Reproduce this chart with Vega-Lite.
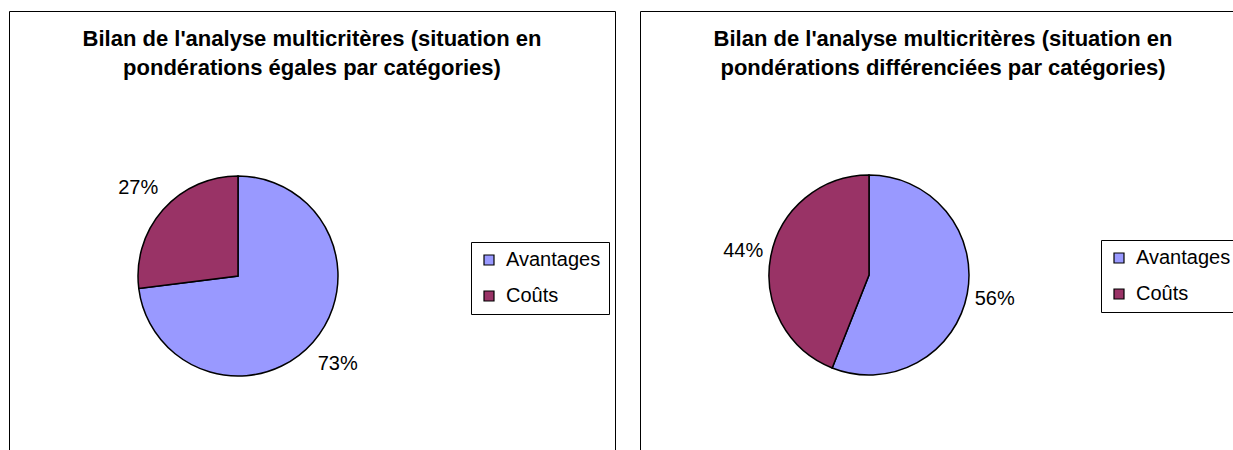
{
  "$schema": "https://vega.github.io/schema/vega-lite/v6.json",
  "background": "white",
  "padding": {"left": 8, "top": 10, "right": 0, "bottom": 0},
  "spacing": 23,
  "config": {
    "font": "Liberation Sans",
    "view": {"stroke": "#000000", "strokeWidth": 1},
    "title": {"font": "Liberation Sans", "fontSize": 22, "fontWeight": "bold", "color": "#000000", "anchor": "middle", "baseline": "top", "offset": -69, "lineHeight": 29},
    "legend": {"orient": "none", "strokeColor": "#000000", "fillColor": "white", "padding": 8, "symbolType": "square", "symbolSize": 100, "symbolStrokeColor": "#000000", "symbolStrokeWidth": 1.2, "labelFontSize": 20, "labelFont": "Liberation Sans", "labelColor": "#000000", "labelOffset": 7, "rowPadding": 16, "title": null}
  },
  "resolve": {"legend": {"color": "independent"}},
  "hconcat": [
    {
      "width": 606,
      "height": 460,
      "view": {"stroke": "#000000", "strokeWidth": 1},
      "title": {"text": ["Bilan de l'analyse multicritères (situation en", "pondérations égales par catégories)"]},
      "data": {"values": [
        {"category": "Avantages", "value": 0.73},
        {"category": "Coûts", "value": 0.27}
      ]},
      "layer": [
        {
          "mark": {"type": "arc", "stroke": "#000000", "strokeWidth": 1.5, "outerRadius": 100, "xOffset": -74, "yOffset": 35},
          "encoding": {
            "theta": {"field": "value", "type": "quantitative", "stack": true},
            "order": {"field": "category", "type": "ordinal", "sort": "ascending"},
            "color": {"field": "category", "type": "nominal", "scale": {"domain": ["Avantages", "Coûts"], "range": ["#9999FF", "#993366"]}, "legend": {"legendX": 462, "legendY": 231}}
          }
        },
        {
          "mark": {"type": "text", "radius": 133, "fontSize": 20, "font": "Liberation Sans", "fill": "#000000", "xOffset": -74, "yOffset": 35, "align": "center", "baseline": "middle"},
          "encoding": {
            "theta": {"field": "value", "type": "quantitative", "stack": true},
            "order": {"field": "category", "type": "ordinal", "sort": "ascending"},
            "detail": {"field": "category", "type": "nominal"},
            "text": {"field": "value", "type": "quantitative", "format": ".0%"}
          }
        }
      ]
    },
    {
      "width": 606,
      "height": 460,
      "view": {"stroke": "#000000", "strokeWidth": 1},
      "title": {"text": ["Bilan de l'analyse multicritères (situation en", "pondérations différenciées par catégories)"]},
      "data": {"values": [
        {"category": "Avantages", "value": 0.56},
        {"category": "Coûts", "value": 0.44}
      ]},
      "layer": [
        {
          "mark": {"type": "arc", "stroke": "#000000", "strokeWidth": 1.5, "outerRadius": 100, "xOffset": -74, "yOffset": 34},
          "encoding": {
            "theta": {"field": "value", "type": "quantitative", "stack": true},
            "order": {"field": "category", "type": "ordinal", "sort": "ascending"},
            "color": {"field": "category", "type": "nominal", "scale": {"domain": ["Avantages", "Coûts"], "range": ["#9999FF", "#993366"]}, "legend": {"legendX": 461, "legendY": 229}}
          }
        },
        {
          "mark": {"type": "text", "radius": 128, "fontSize": 20, "font": "Liberation Sans", "fill": "#000000", "xOffset": -74, "yOffset": 34, "align": "center", "baseline": "middle"},
          "encoding": {
            "theta": {"field": "value", "type": "quantitative", "stack": true},
            "order": {"field": "category", "type": "ordinal", "sort": "ascending"},
            "detail": {"field": "category", "type": "nominal"},
            "text": {"field": "value", "type": "quantitative", "format": ".0%"}
          }
        }
      ]
    }
  ]
}
